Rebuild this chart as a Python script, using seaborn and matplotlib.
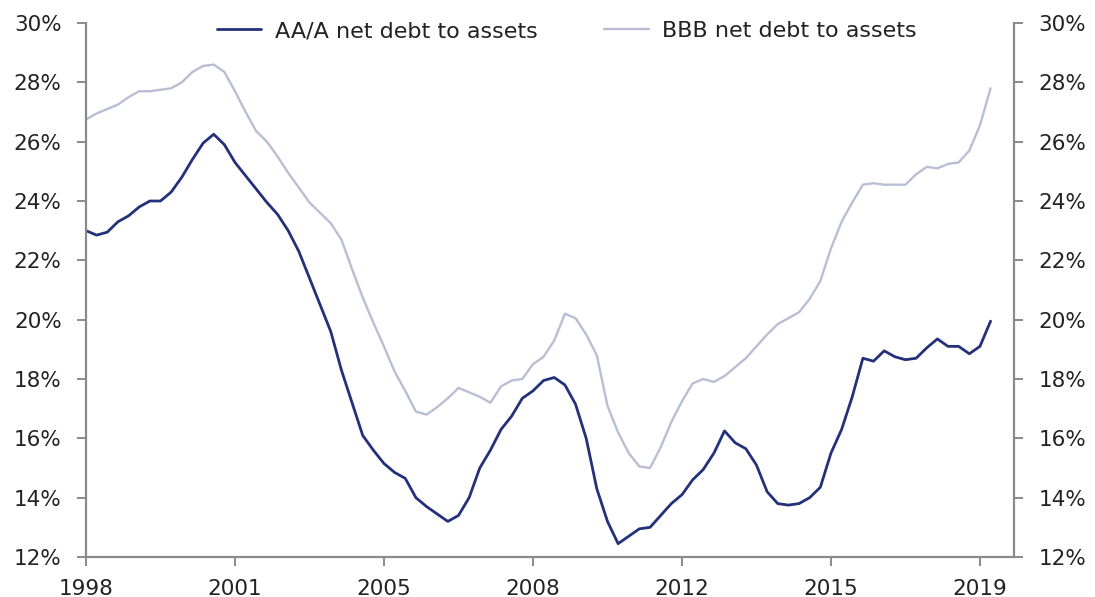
import numpy as np
import pandas as pd
import matplotlib
matplotlib.use("Agg")
import matplotlib.pyplot as plt
from matplotlib.lines import Line2D
import seaborn as sns

# Quarterly observations, 1998 Q1 - 2019 Q2 (net debt / assets, %)
aa_a = [
    23.0, 22.85, 22.95, 23.3, 23.5, 23.8, 24.0, 24.0, 24.3, 24.8,
    25.4, 25.95, 26.25, 25.9, 25.3, 24.85, 24.4, 23.95, 23.55, 23.0,
    22.3, 21.4, 20.5, 19.6, 18.3, 17.2, 16.1, 15.6, 15.15, 14.85,
    14.65, 14.0, 13.7, 13.45, 13.2, 13.4, 14.0, 15.0, 15.6, 16.3,
    16.75, 17.35, 17.6, 17.95, 18.05, 17.8, 17.15, 16.0, 14.3, 13.2,
    12.45, 12.7, 12.95, 13.0, 13.4, 13.8, 14.1, 14.6, 14.95, 15.5,
    16.25, 15.85, 15.65, 15.1, 14.2, 13.8, 13.75, 13.8, 14.0, 14.35,
    15.5, 16.3, 17.4, 18.7, 18.6, 18.95, 18.75, 18.65, 18.7, 19.05,
    19.35, 19.1, 19.1, 18.85, 19.1, 19.95,
]
bbb = [
    26.75, 26.95, 27.1, 27.25, 27.5, 27.7, 27.7, 27.75, 27.8, 28.0,
    28.35, 28.55, 28.6, 28.35, 27.7, 27.0, 26.35, 26.0, 25.5, 24.95,
    24.45, 23.95, 23.6, 23.25, 22.7, 21.7, 20.75, 19.9, 19.1, 18.25,
    17.6, 16.9, 16.8, 17.05, 17.35, 17.7, 17.55, 17.4, 17.2, 17.75,
    17.95, 18.0, 18.5, 18.75, 19.3, 20.2, 20.05, 19.5, 18.8, 17.1,
    16.2, 15.5, 15.05, 15.0, 15.7, 16.55, 17.25, 17.85, 18.0, 17.9,
    18.1, 18.4, 18.7, 19.1, 19.5, 19.85, 20.05, 20.25, 20.7, 21.3,
    22.4, 23.3, 23.95, 24.55, 24.6, 24.55, 24.55, 24.55, 24.9, 25.15,
    25.1, 25.25, 25.3, 25.7, 26.55, 27.8,
]
series_names = ["AA/A net debt to assets", "BBB net debt to assets"]
tick_years = ["1998", "2001", "2005", "2008", "2012", "2015", "2019"]
y_ticks = [12, 14, 16, 18, 20, 22, 24, 26, 28, 30]

quarter = np.arange(len(aa_a))
df = pd.DataFrame({
    "quarter": np.concatenate([quarter, quarter]),
    "value": np.concatenate([aa_a, bbb]),
    "series": [series_names[0]] * len(aa_a) + [series_names[1]] * len(bbb),
})

sns.set_style("white")
plt.rcParams["font.family"] = ["DejaVu Sans"]

fig = plt.figure(figsize=(10.95, 5.97), dpi=100)
ax = fig.add_axes([86 / 1095, 40 / 597, 928 / 1095, 534 / 597])

palette = {series_names[0]: "#23307a", series_names[1]: "#b9bed4"}
widths = {series_names[0]: 2.0, series_names[1]: 1.7}
sns.lineplot(data=df, x="quarter", y="value", hue="series", palette=palette,
             hue_order=series_names, ax=ax, legend=False)
for line, name in zip(ax.lines, series_names):
    line.set_linewidth(widths[name])

ax.set_xlim(0, 87.2)
ax.set_ylim(12, 30)
ax.set_xticks(np.arange(0, 85, 14))
ax.set_xticklabels(tick_years)
ax.set_yticks(y_ticks)
ax.set_yticklabels([f"{v}%" for v in y_ticks])
ax.set_xlabel("")
ax.set_ylabel("")

spine_col = "#8a8a8a"
for side in ["left", "right", "bottom"]:
    ax.spines[side].set_visible(True)
    ax.spines[side].set_color(spine_col)
    ax.spines[side].set_linewidth(1.6)
ax.spines["top"].set_visible(False)

ax.tick_params(axis="both", direction="out", length=6.5, width=1.4,
               color=spine_col, labelsize=15.5, labelcolor="#222222")
ax.tick_params(axis="y", left=True, right=True, labelleft=True,
               labelright=True, pad=11)
ax.tick_params(axis="x", bottom=True, pad=9)

handles = [Line2D([], [], color=palette[n], lw=widths[n]) for n in series_names]
ax.legend(handles, series_names, loc="center", bbox_to_anchor=(0.518, 0.985),
          ncol=2, frameon=False, fontsize=16, handlelength=2.0,
          handletextpad=0.6, columnspacing=3.0, labelcolor="#222222",
          borderaxespad=0)

fig.savefig("out.png", dpi=100, facecolor="white")
